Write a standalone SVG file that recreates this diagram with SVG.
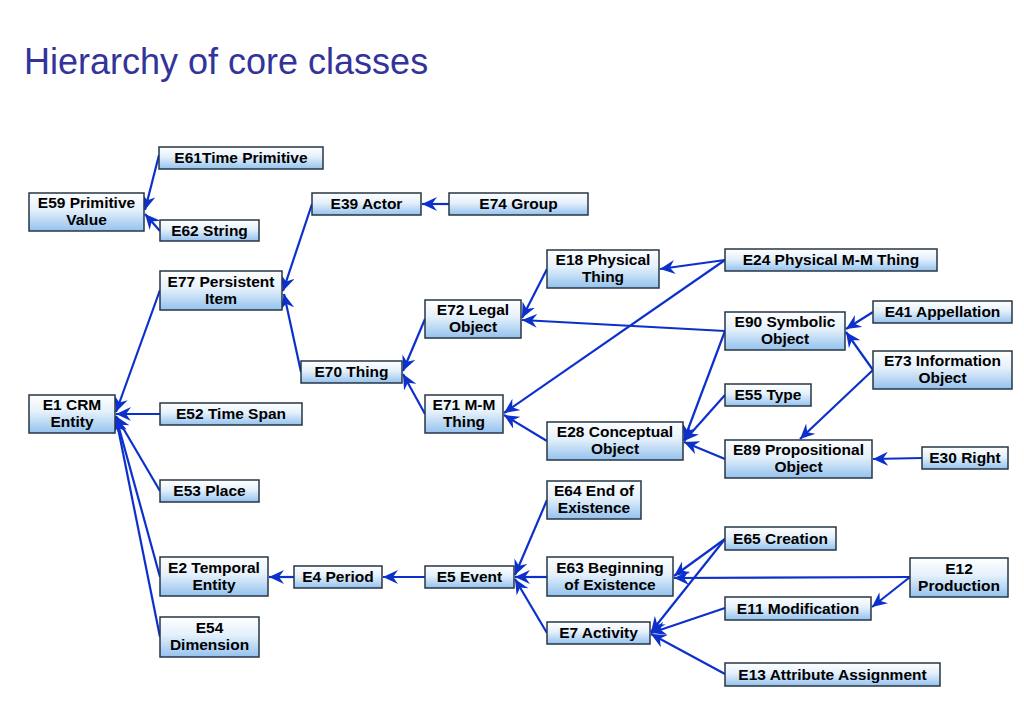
<svg xmlns="http://www.w3.org/2000/svg" width="1024" height="709" viewBox="0 0 1024 709">
<defs>
<linearGradient id="g" x1="0" y1="0" x2="0" y2="1">
<stop offset="0" stop-color="#ffffff"/>
<stop offset="0.45" stop-color="#e4f0fb"/>
<stop offset="1" stop-color="#94c2ee"/>
</linearGradient>
<marker id="ar" markerUnits="userSpaceOnUse" markerWidth="16" markerHeight="14" refX="15" refY="7" orient="auto">
<path d="M0,0 L15,7 L0,14 L5,7 z" fill="#0c30cc"/>
</marker>
</defs>
<style>
.n rect{fill:url(#g);stroke:#263645;stroke-width:1.5}
.n text{font-family:"Liberation Sans",Arial,sans-serif;font-weight:bold;font-size:15.5px;fill:#000;text-anchor:middle}
#edges line{stroke:#0c30cc;stroke-width:2.2;marker-end:url(#ar)}
.title{font-family:"Liberation Sans",Arial,sans-serif;font-size:36px;fill:#333399}
</style>
<rect width="1024" height="709" fill="#ffffff"/>
<text class="title" x="24" y="74">Hierarchy of core classes</text>

<g id="edges">
<line x1="159" y1="155" x2="145" y2="210"/>
<line x1="160" y1="231" x2="145" y2="214"/>
<line x1="449" y1="204" x2="422" y2="204"/>
<line x1="312" y1="204" x2="283" y2="291"/>
<line x1="301" y1="372" x2="284" y2="294"/>
<line x1="160" y1="290" x2="116" y2="412"/>
<line x1="160" y1="414" x2="116" y2="414"/>
<line x1="160" y1="491" x2="116" y2="416"/>
<line x1="160" y1="577" x2="116" y2="417"/>
<line x1="160" y1="637" x2="116" y2="418"/>
<line x1="425" y1="319" x2="403" y2="371"/>
<line x1="425" y1="414" x2="403" y2="374"/>
<line x1="547" y1="269" x2="522" y2="318"/>
<line x1="725" y1="331" x2="522" y2="320"/>
<line x1="725" y1="260" x2="660" y2="269"/>
<line x1="725" y1="260" x2="504" y2="413"/>
<line x1="547" y1="441" x2="504" y2="415"/>
<line x1="725" y1="331" x2="684" y2="440"/>
<line x1="725" y1="395" x2="684" y2="441"/>
<line x1="725" y1="459" x2="684" y2="442"/>
<line x1="873" y1="312" x2="846" y2="329"/>
<line x1="873" y1="370" x2="846" y2="332"/>
<line x1="873" y1="370" x2="800" y2="439"/>
<line x1="922" y1="458" x2="873" y2="459"/>
<line x1="294" y1="577" x2="269" y2="577"/>
<line x1="425" y1="577" x2="383" y2="577"/>
<line x1="547" y1="500" x2="515" y2="575"/>
<line x1="547" y1="577" x2="515" y2="577"/>
<line x1="547" y1="633" x2="515" y2="579"/>
<line x1="725" y1="539" x2="674" y2="576"/>
<line x1="725" y1="539" x2="651" y2="632"/>
<line x1="910" y1="577" x2="674" y2="578"/>
<line x1="910" y1="577" x2="872" y2="607"/>
<line x1="725" y1="608" x2="651" y2="633"/>
<line x1="725" y1="674" x2="651" y2="634"/>
</g>

<g id="E61" class="n"><rect x="159" y="147" width="164" height="22"/><text x="241" y="163">E61Time Primitive</text></g>
<g id="E59" class="n"><rect x="29" y="193" width="115" height="38"/><text x="86.5" y="208">E59 Primitive</text><text x="86.5" y="225">Value</text></g>
<g id="E62" class="n"><rect x="160" y="220" width="99" height="21"/><text x="209.5" y="236">E62 String</text></g>
<g id="E39" class="n"><rect x="312" y="193" width="109" height="22"/><text x="366.5" y="209">E39 Actor</text></g>
<g id="E74" class="n"><rect x="449" y="193" width="139" height="22"/><text x="518.5" y="209">E74 Group</text></g>
<g id="E77" class="n"><rect x="160" y="271" width="122" height="39"/><text x="221" y="287">E77 Persistent</text><text x="221" y="304">Item</text></g>
<g id="E18" class="n"><rect x="547" y="250" width="112" height="38"/><text x="603" y="265">E18 Physical</text><text x="603" y="282">Thing</text></g>
<g id="E24" class="n"><rect x="725" y="249" width="212" height="22"/><text x="831" y="265">E24 Physical M-M Thing</text></g>
<g id="E72" class="n"><rect x="425" y="300" width="96" height="38"/><text x="473" y="315">E72 Legal</text><text x="473" y="332">Object</text></g>
<g id="E41" class="n"><rect x="873" y="301" width="139" height="22"/><text x="942.5" y="317">E41 Appellation</text></g>
<g id="E90" class="n"><rect x="725" y="312" width="120" height="38"/><text x="785" y="327">E90 Symbolic</text><text x="785" y="344">Object</text></g>
<g id="E70" class="n"><rect x="301" y="361" width="101" height="22"/><text x="351.5" y="377">E70 Thing</text></g>
<g id="E73" class="n"><rect x="873" y="351" width="139" height="38"/><text x="942.5" y="366">E73 Information</text><text x="942.5" y="383">Object</text></g>
<g id="E1" class="n"><rect x="29" y="395" width="86" height="38"/><text x="72" y="410">E1 CRM</text><text x="72" y="427">Entity</text></g>
<g id="E52" class="n"><rect x="160" y="403" width="142" height="22"/><text x="231" y="419">E52 Time Span</text></g>
<g id="E55" class="n"><rect x="725" y="384" width="86" height="22"/><text x="768" y="400">E55 Type</text></g>
<g id="E71" class="n"><rect x="425" y="395" width="78" height="38"/><text x="464" y="410">E71 M-M</text><text x="464" y="427">Thing</text></g>
<g id="E28" class="n"><rect x="547" y="422" width="136" height="38"/><text x="615" y="437">E28 Conceptual</text><text x="615" y="454">Object</text></g>
<g id="E89" class="n"><rect x="725" y="440" width="147" height="38"/><text x="798.5" y="455">E89 Propositional</text><text x="798.5" y="472">Object</text></g>
<g id="E30" class="n"><rect x="922" y="447" width="86" height="22"/><text x="965" y="463">E30 Right</text></g>
<g id="E53" class="n"><rect x="160" y="480" width="99" height="22"/><text x="209.5" y="496">E53 Place</text></g>
<g id="E64" class="n"><rect x="547" y="481" width="94" height="38"/><text x="594" y="496">E64 End of</text><text x="594" y="513">Existence</text></g>
<g id="E2" class="n"><rect x="160" y="557" width="108" height="39"/><text x="214" y="573">E2 Temporal</text><text x="214" y="590">Entity</text></g>
<g id="E4" class="n"><rect x="294" y="566" width="88" height="22"/><text x="338" y="582">E4 Period</text></g>
<g id="E5" class="n"><rect x="425" y="566" width="89" height="22"/><text x="469.5" y="582">E5 Event</text></g>
<g id="E63" class="n"><rect x="547" y="557" width="126" height="39"/><text x="610" y="573">E63 Beginning</text><text x="610" y="590">of Existence</text></g>
<g id="E65" class="n"><rect x="725" y="527" width="111" height="23"/><text x="780.5" y="544">E65 Creation</text></g>
<g id="E12" class="n"><rect x="910" y="558" width="98" height="39"/><text x="959" y="574">E12</text><text x="959" y="591">Production</text></g>
<g id="E11" class="n"><rect x="725" y="597" width="146" height="23"/><text x="798" y="614">E11 Modification</text></g>
<g id="E7" class="n"><rect x="547" y="622" width="103" height="22"/><text x="598.5" y="638">E7 Activity</text></g>
<g id="E54" class="n"><rect x="160" y="617" width="99" height="40"/><text x="209.5" y="633">E54</text><text x="209.5" y="650">Dimension</text></g>
<g id="E13" class="n"><rect x="725" y="663" width="215" height="23"/><text x="832.5" y="680">E13 Attribute Assignment</text></g>
</svg>
